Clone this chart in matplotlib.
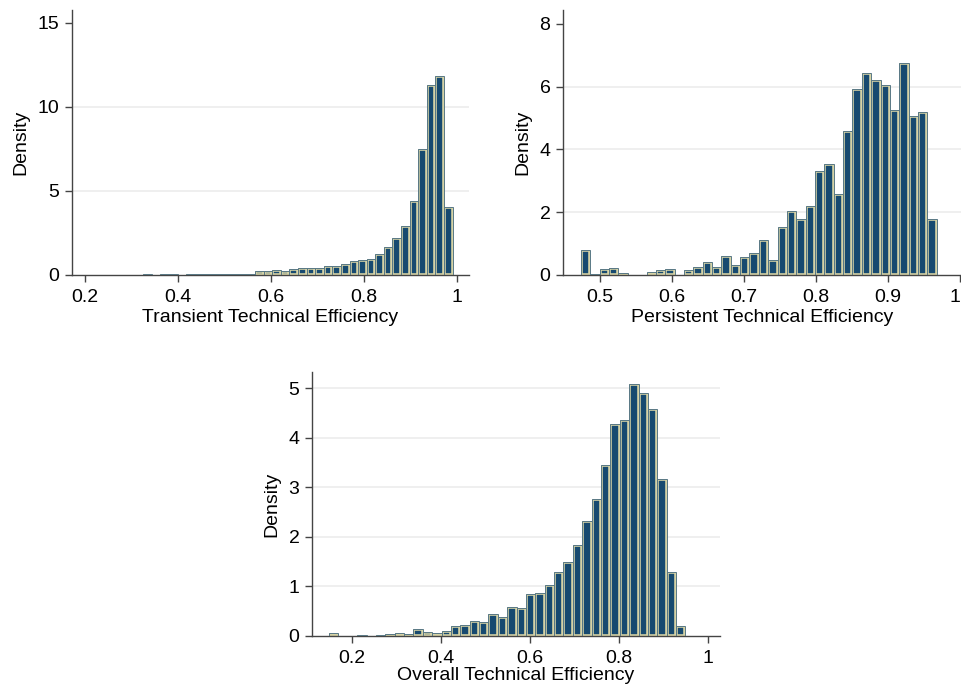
import numpy as np
import matplotlib
matplotlib.use("Agg")
import matplotlib.pyplot as plt

plt.rcParams['font.family'] = ['Liberation Sans', 'DejaVu Sans']

# ---- data (density per bin, 38 bins each) ----
transient_range = (0.2890, 0.9913)
transient_density = [0.02, 0.01, 0.03, 0.02, 0.05, 0.03, 0.02, 0.03, 0.04, 0.03,
                     0.04, 0.05, 0.05, 0.08, 0.08, 0.24, 0.24, 0.30, 0.22, 0.36,
                     0.42, 0.42, 0.42, 0.54, 0.52, 0.65, 0.83, 0.89, 0.95, 1.25,
                     1.67, 2.20, 2.92, 4.40, 7.50, 11.30, 11.85, 4.05]

persistent_range = (0.4736, 0.9676)
persistent_density = [0.81, 0.02, 0.18, 0.21, 0.05, 0.01, 0.01, 0.08, 0.15, 0.18,
                      0.00, 0.15, 0.27, 0.40, 0.27, 0.59, 0.31, 0.56, 0.69, 1.10,
                      0.47, 1.54, 2.05, 1.77, 2.19, 3.32, 3.54, 2.59, 4.59, 5.93,
                      6.43, 6.21, 6.05, 5.26, 6.75, 5.07, 5.20, 1.80]

overall_range = (0.1492, 0.9484)
overall_density = [0.07, 0.00, 0.00, 0.02, 0.01, 0.02, 0.05, 0.07, 0.05, 0.135,
                   0.09, 0.07, 0.11, 0.20, 0.22, 0.31, 0.28, 0.45, 0.39, 0.59,
                   0.57, 0.84, 0.86, 1.02, 1.29, 1.49, 1.83, 2.32, 2.76, 3.46,
                   4.29, 4.36, 5.08, 4.91, 4.58, 3.17, 1.29, 0.20]

x_labels = ["Transient Technical Efficiency", "Persistent Technical Efficiency",
            "Overall Technical Efficiency"]
y_label = "Density"

FILL = "#174a70"
KHAKI = "#d6d3a6"
OUTLINE = "#587885"
AXCOL = "#444444"
GRID = "#ececec"

fig = plt.figure(figsize=(9.62, 6.88), dpi=100)

specs = [
    ([72/962, 1-275/688, 397/962, 265/688], transient_density, transient_range,
     (0.1727, 1.0265), [0.2, 0.4, 0.6, 0.8, 1.0], ["0.2", "0.4", "0.6", "0.8", "1"],
     (0, 15.77), [0, 5, 10, 15], [5, 10], x_labels[0]),
    ([563/962, 1-275/688, 398/962, 265/688], persistent_density, persistent_range,
     (0.4486, 1.0014), [0.5, 0.6, 0.7, 0.8, 0.9, 1.0], ["0.5", "0.6", "0.7", "0.8", "0.9", "1"],
     (0, 8.446), [0, 2, 4, 6, 8], [2, 4, 6], x_labels[1]),
    ([312/962, 1-636/688, 408/962, 264/688], overall_density, overall_range,
     (0.111, 1.026), [0.2, 0.4, 0.6, 0.8, 1.0], ["0.2", "0.4", "0.6", "0.8", "1"],
     (0, 5.33), [0, 1, 2, 3, 4, 5], [1, 2, 3, 4, 5], x_labels[2]),
]

for k, (rect, dens, rng, xlim, xt, xtl, ylim, yt, grid, xlab) in enumerate(specs):
    ax = fig.add_axes(rect)
    edges = np.linspace(rng[0], rng[1], len(dens) + 1)
    width = edges[1] - edges[0]
    for g in grid:
        ax.axhline(g, color=GRID, lw=1.2, zorder=0)
    bars = ax.bar(edges[:-1], dens, width=width, align='edge', color=FILL,
                  edgecolor=KHAKI, linewidth=2.6, zorder=2)
    for b in bars:
        b.set_clip_path(b)
    ax.bar(edges[:-1], dens, width=width, align='edge', color='none',
           edgecolor=OUTLINE, linewidth=0.7, zorder=3)
    ax.set_xlim(*xlim)
    ax.set_ylim(*ylim)
    ax.set_xticks(xt)
    ax.set_xticklabels(xtl)
    ax.set_yticks(yt)
    ax.set_yticklabels([str(v) for v in yt])
    for s in ['top', 'right']:
        ax.spines[s].set_visible(False)
    for s in ['left', 'bottom']:
        ax.spines[s].set_color(AXCOL)
        ax.spines[s].set_linewidth(1.0)
    ax.tick_params(axis='both', direction='out', length=5, width=1.0,
                   color=AXCOL, labelsize=14, pad=4)
    ax.tick_params(axis='x', pad=5)
    ax.set_xlabel(xlab, fontsize=14, labelpad=2 if k < 2 else 0)
    ax.set_ylabel(y_label, fontsize=14, labelpad=6)
    ax.set_facecolor('white')
    if k == 1:
        ax.get_xticklabels()[-1].set_horizontalalignment('right')

fig.savefig("out.png", dpi=100, facecolor='white')
